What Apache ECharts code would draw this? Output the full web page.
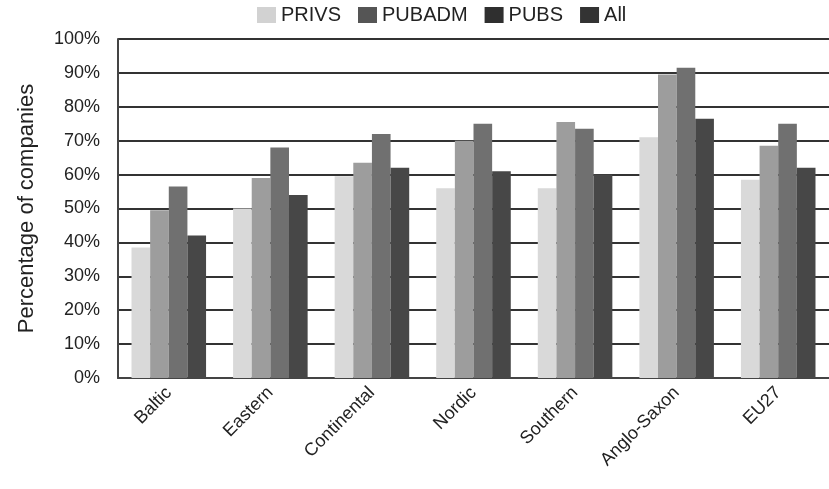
<!DOCTYPE html>
<html>
<head>
<meta charset="utf-8">
<script src="https://cdn.jsdelivr.net/npm/echarts@6/dist/echarts.min.js"></script>
<style>
  html, body { margin: 0; padding: 0; background: #fff; }
  #chart { width: 829px; height: 489px; }
</style>
</head>
<body>
<div id="chart"></div>
<script>
// Regions compared along the x axis
var regions = ['Baltic', 'Eastern', 'Continental', 'Nordic', 'Southern', 'Anglo-Saxon', 'EU27'];

// Share of companies (%) per sector group
var privs  = [38.5, 50, 59.5, 56, 56, 71, 58.5];
var pubadm = [49.5, 59, 63.5, 70, 75.5, 89.5, 68.5];
var pubs   = [56.5, 68, 72, 75, 73.5, 91.5, 75];
var all    = [42, 54, 62, 61, 60, 76.5, 62];

var seriesNames = ['PRIVS', 'PUBADM', 'PUBS', 'All'];
var yTicks = [0, 10, 20, 30, 40, 50, 60, 70, 80, 90, 100];

var barColors = ['#d9d9d9', '#9d9d9d', '#707070', '#474747'];
var legendColors = ['#d2d2d2', '#555555', '#2f2f2f', '#333333'];
var font = '"Liberation Sans", Arial, sans-serif';

var chart = echarts.init(document.getElementById('chart'), null, { renderer: 'canvas' });

var valuesBySeries = [privs, pubadm, pubs, all];

chart.setOption({
  backgroundColor: '#ffffff',
  animation: false,
  legend: {
    top: 0,
    left: 252,
    itemWidth: 19,
    itemHeight: 16,
    itemGap: 17,
    icon: 'rect',
    textStyle: { fontFamily: font, fontSize: 20, color: '#222' },
    data: seriesNames.map(function (n, i) {
      return { name: n, itemStyle: { color: legendColors[i] } };
    })
  },
  grid: { left: 118, top: 39, width: 724, height: 339 },
  xAxis: {
    type: 'category',
    data: regions,
    axisLine: { show: true, lineStyle: { color: '#444', width: 2 } },
    axisTick: { show: false },
    axisLabel: {
      rotate: 45,
      margin: 12,
      fontFamily: font,
      fontSize: 18,
      color: '#222'
    }
  },
  yAxis: {
    type: 'value',
    min: yTicks[0],
    max: yTicks[yTicks.length - 1],
    interval: 10,
    name: 'Percentage of companies',
    nameLocation: 'middle',
    nameGap: 80,
    nameTextStyle: { fontFamily: font, fontSize: 22, color: '#222' },
    axisLine: { show: true, lineStyle: { color: '#444', width: 2 } },
    axisTick: { show: false },
    axisLabel: {
      margin: 18,
      fontFamily: font,
      fontSize: 18,
      color: '#222',
      formatter: '{value}%'
    },
    splitLine: { show: true, lineStyle: { color: '#333', width: 2 } }
  },
  series: seriesNames.map(function (n, i) {
    return {
      name: n,
      type: 'bar',
      z: 10,
      data: valuesBySeries[i],
      barGap: '0%',
      barCategoryGap: '26.6%',
      itemStyle: { color: barColors[i] }
    };
  })
});
</script>
</body>
</html>
